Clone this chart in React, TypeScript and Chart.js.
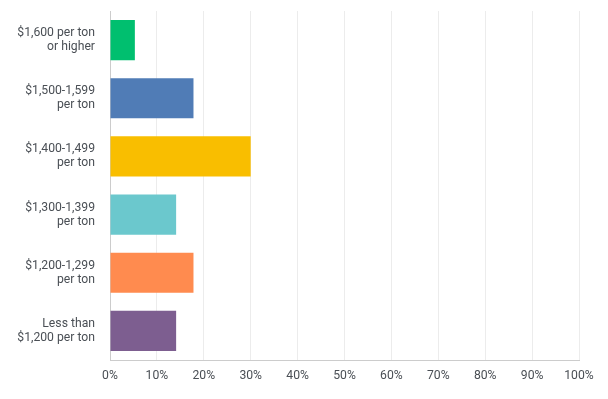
import React, { useEffect, useRef } from "react";
import { Chart, registerables } from "chart.js";

Chart.register(...registerables);

const categories: string[][] = [
  ["$1,600 per ton", "or higher"],
  ["$1,500-1,599", "per ton"],
  ["$1,400-1,499", "per ton"],
  ["$1,300-1,399", "per ton"],
  ["$1,200-1,299", "per ton"],
  ["Less than", "$1,200 per ton"],
];
const values: number[] = [5.3, 17.8, 30.0, 14.1, 17.8, 14.1];
const colors: string[] = ["#00BF6F", "#507CB6", "#F9BE00", "#6BC8CD", "#FF8B4F", "#7D5E90"];
const tickValues: number[] = [0, 10, 20, 30, 40, 50, 60, 70, 80, 90, 100];

export default function App() {
  const ref = useRef<HTMLCanvasElement>(null);
  useEffect(() => {
    if (!ref.current) return;
    const font = { family: "Roboto, sans-serif", size: 12.2, lineHeight: 1.15 };
    const chart = new Chart(ref.current, {
      type: "bar",
      data: {
        labels: categories,
        datasets: [
          {
            data: values,
            backgroundColor: colors,
            borderWidth: 0,
            barPercentage: 0.69,
            categoryPercentage: 1,
          },
        ],
      },
      options: {
        indexAxis: "y",
        animation: false,
        responsive: false,
        layout: { padding: { top: 11, right: 29, bottom: 0, left: 0 } },
        plugins: { legend: { display: false }, tooltip: { enabled: false } },
        scales: {
          x: {
            min: 0,
            max: 100,
            afterBuildTicks: (axis: any) => {
              axis.ticks = tickValues.map((v) => ({ value: v }));
            },
            afterFit: (axis: any) => {
              axis.height = 39;
            },
            ticks: {
              callback: (v: any) => v + "%",
              color: "#4a4f55",
              font,
              padding: 9,
              maxRotation: 0,
            },
            grid: { color: "#ececec", drawTicks: false, lineWidth: 1 },
            border: { color: "#cccccc", width: 1 },
          },
          y: {
            afterFit: (axis: any) => {
              axis.width = 110;
              axis.paddingTop = 0;
              axis.paddingBottom = 0;
            },
            ticks: { color: "#4a4f55", font, padding: 15 },
            grid: { display: false, drawTicks: false },
            border: { color: "#cccccc", width: 1 },
          },
        },
      },
    } as any);
    return () => chart.destroy();
  }, []);
  return (
    <div style={{ position: "fixed", left: 0, top: 0, width: 608, height: 399, background: "#fff" }}>
      <canvas ref={ref} width={608} height={399} style={{ width: 608, height: 399 }} />
    </div>
  );
}
